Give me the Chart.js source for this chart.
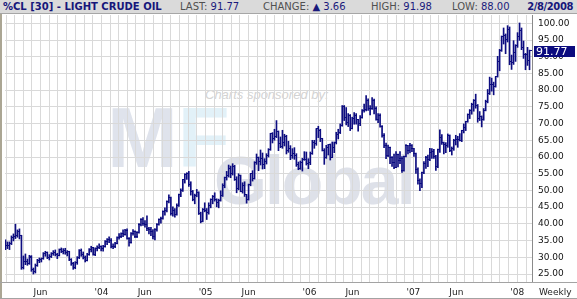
<!DOCTYPE html>
<html><head><meta charset="utf-8">
<script src="https://cdn.jsdelivr.net/npm/chart.js@4.4.1/dist/chart.umd.min.js"></script>
<style>
html,body{margin:0;padding:0;background:#fff;}
#wrap{position:relative;width:577px;height:299px;overflow:hidden;font-family:"DejaVu Sans",Verdana,sans-serif;}
#hdr{position:absolute;left:0;top:0;width:577px;height:13px;background:#dadada;border-bottom:1px solid #a6a6a6;z-index:3;}
.t{position:absolute;top:0;font-size:10px;line-height:13px;white-space:nowrap;}
.lab{color:#505050;}
.val{color:#1a1a7c;}
.wm{position:absolute;white-space:nowrap;font-family:"Liberation Sans",Arial,sans-serif;z-index:0;}
#chart{position:absolute;left:0;top:0;z-index:1;}
.ln{position:absolute;z-index:2;}
</style></head>
<body>
<div id="wrap">
  <div class="wm" style="left:205px;top:88px;font-size:13px;font-style:italic;color:#d3d3d3;line-height:13px;">Charts sponsored by:</div>
  <div class="wm" style="left:107px;top:95px;font-size:85px;font-weight:bold;line-height:85px;"><span style="color:#dfe3ec">M</span><span style="color:#e2f1f8">F</span></div>
  <div class="wm" style="left:214px;top:146px;font-size:68px;font-weight:bold;line-height:68px;letter-spacing:-2px;color:#dee1e9;">Global</div>
  <canvas id="chart" width="577" height="299"></canvas>
  <div id="hdr">
    <span class="t" style="left:3px;font-weight:bold;color:#16167a;">%CL [30] - LIGHT CRUDE OIL</span>
    <span class="t" style="left:180px;"><span class="lab">LAST:</span> <span class="val" id="hLast"></span></span>
    <span class="t" style="left:263px;"><span class="lab">CHANGE:</span> <span class="val">&#9650; <span id="hChg"></span></span></span>
    <span class="t" style="left:371px;"><span class="lab">HIGH:</span> <span class="val" id="hHigh"></span></span>
    <span class="t" style="left:452px;"><span class="lab">LOW:</span> <span class="val" id="hLow"></span></span>
    <span class="t" style="right:4px;font-weight:bold;color:#16167a;letter-spacing:-0.4px;">2/8/2008</span>
  </div>
  <div class="ln" style="left:0;top:14px;width:2px;height:285px;background:#aba694;"></div>
  <div class="ln" style="left:0;top:282px;width:577px;height:1px;background:#a3a3a3;"></div>
  <div class="ln" style="left:0;top:298px;width:577px;height:1px;background:#a3a3a3;"></div>
  <div class="t" style="left:539px;top:286px;font-size:9px;color:#222;z-index:2;">Weekly</div>
</div>
<script>
// ---- data (weekly bars, week ending Friday, starting 24 Jan 2003) ----
const firstWeekEnding = Date.UTC(2003, 0, 24);
const opens = [33.2,33.6,33.5,34.1,35.9,36.2,36.6,37.6,36.4,26.9,28.8,28.6,28.2,30.0,26.3,25.8,27.6,28.9,29.3,29.6,31.1,31.3,30.0,30.2,31.1,31.3,30.7,30.5,32.3,31.6,31.9,31.4,31.6,29.3,28.1,26.9,28.3,29.8,31.9,30.9,29.9,29.1,30.9,32.4,32.8,30.8,32.6,33.0,33.2,32.5,33.2,34.6,35.2,35.1,33.1,33.2,34.2,35.9,36.3,37.1,36.8,38.1,35.7,34.4,37.1,37.7,36.3,37.4,39.9,41.4,40.0,39.9,38.5,38.4,37.6,36.2,38.4,39.9,41.3,41.7,43.8,43.9,46.6,47.9,43.2,44.0,42.8,45.6,48.9,50.1,53.3,54.9,55.2,51.8,49.6,47.3,48.4,49.4,43.0,40.7,44.2,44.0,43.5,45.4,47.2,48.3,47.2,46.5,47.1,48.4,51.5,53.8,54.4,56.7,55.0,57.3,53.3,50.5,54.4,49.7,51.5,48.7,47.2,51.9,55.0,53.5,58.5,59.8,58.8,59.6,57.8,58.7,60.6,62.3,66.9,65.4,66.1,67.6,64.1,63.0,64.2,66.2,61.8,62.6,60.6,61.0,60.6,57.8,56.6,58.3,59.3,59.4,58.1,58.4,61.0,64.2,63.9,68.4,67.8,65.4,61.9,59.9,62.9,63.7,60.0,62.8,64.3,66.6,67.4,69.3,75.2,71.9,70.2,72.4,68.5,71.4,72.3,71.1,69.9,71.9,73.9,74.1,77.0,74.4,74.4,77.0,74.4,71.1,72.5,69.2,66.3,63.3,60.6,62.9,59.8,58.5,57.0,60.8,59.1,59.6,56.0,60.2,63.4,62.0,63.4,62.4,61.1,56.3,52.9,52.0,55.4,58.1,59.9,59.4,61.4,61.6,60.1,57.1,62.3,65.9,64.3,63.6,63.4,66.5,61.9,62.4,64.9,65.2,65.1,64.8,68.0,68.9,70.7,72.8,73.9,75.6,77.0,75.5,71.5,72.0,71.1,74.0,76.7,79.1,81.6,81.7,81.2,84.0,88.6,91.9,95.9,96.3,95.1,98.2,88.7,88.3,91.3,93.3,96.0,97.9,92.7,90.6,90.7,88.96];
const highs = [35.2,34.6,34.6,36.4,37.0,39.9,38.2,38.5,36.6,30.4,31.0,29.5,30.6,30.5,26.8,28.0,29.4,29.8,29.8,31.4,31.8,31.6,30.8,31.4,32.0,32.2,31.2,32.5,32.8,32.6,32.7,32.0,31.8,29.6,28.5,28.7,30.2,32.3,32.5,31.6,30.4,31.2,32.6,33.3,33.0,32.8,33.4,34.0,33.4,33.6,35.0,35.6,36.1,35.6,34.0,34.5,36.1,37.1,37.3,38.2,38.4,38.5,35.9,37.4,38.3,37.9,37.7,40.1,41.6,41.9,41.0,42.4,39.0,39.0,38.3,38.6,40.1,41.5,42.0,43.9,44.8,46.9,48.7,48.0,45.1,44.6,46.0,48.9,50.5,53.3,55.0,55.3,55.7,52.6,50.0,48.9,50.3,49.6,43.5,44.6,46.3,44.6,46.3,47.5,48.5,49.3,47.5,47.4,49.9,52.0,54.0,55.7,57.6,57.3,58.0,57.5,54.1,55.0,54.6,52.3,52.6,48.8,51.9,55.0,55.9,58.6,60.9,60.0,62.1,61.2,59.5,61.0,62.5,67.1,67.3,68.3,70.9,67.8,66.0,68.0,66.8,66.5,64.7,63.4,62.5,62.8,61.0,58.5,58.8,59.6,61.6,61.5,59.5,61.5,65.0,65.0,68.5,69.2,68.3,65.6,62.5,63.5,63.8,63.9,64.5,64.5,67.4,68.3,69.9,75.4,75.4,74.8,73.0,72.7,71.9,73.3,73.0,71.3,72.4,74.2,75.8,78.4,77.4,75.4,77.8,77.3,75.0,73.0,72.9,69.4,67.0,64.2,63.6,63.0,60.1,60.9,61.6,60.9,61.6,60.1,60.3,63.7,63.5,64.1,63.7,62.6,61.2,56.8,53.5,55.5,58.6,60.2,60.6,62.6,62.5,62.3,60.5,62.4,68.1,66.7,64.5,64.3,66.9,66.6,63.0,65.3,66.5,66.2,67.0,68.0,69.9,70.7,72.9,74.2,76.1,77.2,78.8,75.7,73.6,72.3,74.5,77.0,80.2,83.9,83.6,82.4,84.0,90.1,92.2,96.2,98.6,96.8,99.3,98.9,90.5,94.8,93.6,97.2,100.1,98.6,94.7,91.0,92.8,91.98];
const lows = [32.3,32.6,32.3,33.8,34.9,35.6,36.0,35.5,26.4,26.5,27.8,27.6,27.9,25.8,25.0,25.3,27.3,28.4,28.6,29.4,30.3,29.6,29.2,29.9,30.6,30.4,29.6,30.4,31.4,31.0,30.9,30.4,29.0,27.6,26.4,26.6,27.9,29.6,30.3,29.5,28.6,28.9,30.6,31.6,30.6,30.5,31.9,32.6,31.9,31.8,33.0,33.8,34.4,32.8,32.6,32.9,34.0,35.4,35.9,36.2,36.6,35.4,33.3,34.2,36.6,35.9,35.9,37.2,39.4,39.5,39.0,38.0,37.0,36.5,35.5,35.2,37.8,39.6,40.2,41.4,42.6,43.6,46.3,42.6,42.3,42.0,42.6,45.2,48.1,49.7,52.2,53.3,51.2,48.6,46.9,46.0,48.1,42.8,40.3,40.6,43.6,41.3,42.9,44.8,46.0,46.8,45.1,44.8,46.8,48.2,50.8,53.1,54.0,53.8,54.6,53.0,49.3,50.2,49.6,49.2,48.2,46.2,47.1,51.4,52.8,53.4,57.8,55.9,57.6,56.4,56.5,57.9,60.0,62.0,64.2,65.0,65.8,61.9,62.8,62.6,63.3,60.9,61.4,59.2,59.6,59.3,57.2,56.2,56.3,55.8,59.0,57.6,56.5,57.7,60.8,62.6,63.5,65.8,64.6,61.8,57.8,59.6,60.6,59.1,59.8,61.3,63.9,65.4,67.0,69.2,70.9,69.6,69.1,67.9,68.4,69.8,69.8,67.7,69.4,71.6,73.4,73.8,73.9,72.6,74.2,72.9,71.0,70.3,68.9,65.9,62.8,59.5,60.1,58.0,57.2,56.5,56.8,57.0,58.0,55.4,55.8,60.0,60.9,61.2,61.6,60.2,55.1,51.9,49.9,50.8,55.0,56.6,57.1,58.9,59.6,59.6,56.0,56.8,61.4,63.8,60.9,61.3,62.9,61.6,60.6,62.0,63.6,62.9,64.8,64.6,67.2,67.9,70.4,71.5,72.8,73.7,74.6,70.4,70.9,69.0,71.0,73.8,76.2,78.7,79.7,78.6,80.9,83.9,85.8,91.6,93.8,90.9,94.4,87.6,86.2,87.7,88.6,92.8,94.9,92.1,89.5,86.1,87.4,86.10];
const closes = [33.6,33.5,34.1,35.9,36.1,36.6,37.8,36.5,26.9,28.6,28.7,28.1,30.2,26.3,25.7,27.6,28.9,29.3,29.6,31.0,31.3,30.0,30.2,31.1,31.3,30.7,30.5,32.3,31.6,31.9,31.4,31.6,29.3,28.1,26.9,28.3,29.8,31.9,30.9,29.9,29.1,30.9,32.4,32.8,30.8,32.6,33.0,33.2,32.5,33.2,34.6,35.2,35.1,33.1,33.2,34.2,35.9,36.3,37.1,36.8,38.1,35.7,34.4,37.1,37.7,36.3,37.4,39.9,41.4,40.0,39.9,38.5,38.4,37.6,36.2,38.4,39.9,41.3,41.7,43.8,43.9,46.6,47.9,43.2,44.0,42.8,45.6,48.9,50.1,53.3,54.9,55.2,51.8,49.6,47.3,48.4,49.4,43.0,40.7,44.2,44.0,43.5,45.4,47.2,48.3,47.2,46.5,47.1,48.4,51.5,53.8,54.4,56.7,55.0,57.3,53.3,50.5,54.4,49.7,51.5,48.7,47.2,51.9,55.0,53.5,58.5,59.8,58.8,59.6,57.8,58.7,60.6,62.3,66.9,65.4,66.1,67.6,64.1,63.0,64.2,66.2,61.8,62.6,60.6,61.0,60.6,57.8,56.6,58.3,59.3,59.4,58.1,58.4,61.0,64.2,63.9,68.4,67.8,65.4,61.9,59.9,62.9,63.7,60.0,62.8,64.3,66.6,67.4,69.3,75.2,71.9,70.2,72.4,68.5,71.4,72.3,71.1,69.9,71.9,73.9,74.1,77.0,74.4,74.4,77.0,74.4,71.1,72.5,69.2,66.3,63.3,60.6,62.9,59.8,58.5,57.0,60.8,59.1,59.6,56.0,60.2,63.4,62.0,63.4,62.4,61.1,56.3,52.9,52.0,55.4,58.1,59.9,59.4,61.4,61.6,60.1,57.1,62.3,65.9,64.3,63.6,63.4,66.5,61.9,62.4,64.9,65.2,65.1,64.8,68.0,68.9,70.7,72.8,73.9,75.6,77.0,75.5,71.5,72.0,71.1,74.0,76.7,79.1,81.6,81.7,81.2,84.0,88.6,91.9,95.9,96.3,95.1,98.2,88.7,88.3,91.3,93.3,96.0,97.9,92.7,90.6,90.7,88.96,91.77];
const yTickValues = [25,30,35,40,45,50,55,60,65,70,75,80,85,90,95,100];
const monthLabels = {5: 'Jun'}; // January shows 'YY
const headerStats = {last: 91.77, change: 3.66, high: 91.98, low: 88.00};

// ---- header text ----
document.getElementById('hLast').textContent = headerStats.last.toFixed(2);
document.getElementById('hChg').textContent = headerStats.change.toFixed(2);
document.getElementById('hHigh').textContent = headerStats.high.toFixed(2);
document.getElementById('hLow').textContent = headerStats.low.toFixed(2);

const DAY = 864e5;
const weekEnding = closes.map((_, i) => firstWeekEnding + i * 7 * DAY);
const BAR_SHIFT = 5 * DAY;               // bar drawn a little after week end
// 2 px per week; plot area is 529 px wide
const X_MIN = firstWeekEnding + BAR_SHIFT - 1.75 * DAY;
const X_MAX = X_MIN + 1851.5 * DAY;

const monthTicks = [];
for (let y = 2003; y <= 2008; y++) for (let m = 0; m < 12; m++) {
  const t = Date.UTC(y, m, 1);
  if (t > X_MIN && t < X_MAX) monthTicks.push(t);
}

const BAR_COLOR = '#0d0d80';
function tickImg(side) {
  const c = document.createElement('canvas');
  c.width = 5; c.height = 1;
  const g = c.getContext('2d');
  g.fillStyle = BAR_COLOR;
  g.fillRect(side === 'open' ? 0 : 3, 0, 2, 1);
  return c;
}

const noSmooth = { id: 'noSmooth', beforeDatasetsDraw(chart) { chart.ctx.imageSmoothingEnabled = false; } };
const lastBox = {
  id: 'lastBox',
  afterDraw(chart) {
    const { ctx, scales: { y } } = chart;
    const v = closes[closes.length - 1];
    const py = Math.round(y.getPixelForValue(v));
    ctx.save();
    ctx.fillStyle = '#0b0b7e';
    ctx.fillRect(y.left + 2, py - 5, 41, 11);
    ctx.fillStyle = '#ffffff';
    ctx.font = '11px "DejaVu Sans"';
    ctx.textBaseline = 'middle';
    ctx.fillText(v.toFixed(2), y.left + 4, py + 1);
    ctx.restore();
  }
};

new Chart(document.getElementById('chart'), {
  type: 'bar',
  data: {
    datasets: [
      {
        type: 'bar',
        data: weekEnding.map((t, i) => ({ x: t + BAR_SHIFT, y: [lows[i], highs[i]] })),
        backgroundColor: BAR_COLOR,
        borderWidth: 0,
        barThickness: 1,
        grouped: false
      },
      {
        type: 'line', showLine: false,
        data: weekEnding.map((t, i) => ({ x: t + BAR_SHIFT, y: opens[i] })),
        pointStyle: tickImg('open'), pointRadius: 2
      },
      {
        type: 'line', showLine: false,
        data: weekEnding.map((t, i) => ({ x: t + BAR_SHIFT, y: closes[i] })),
        pointStyle: tickImg('close'), pointRadius: 2
      }
    ]
  },
  options: {
    responsive: false,
    devicePixelRatio: 1,
    animation: false,
    events: [],
    layout: { padding: { left: 3, top: 15, right: 0, bottom: 0 } },
    plugins: { legend: { display: false }, tooltip: { enabled: false } },
    scales: {
      x: {
        type: 'linear', min: X_MIN, max: X_MAX, offset: false,
        grid: { color: '#d9d9d9', lineWidth: 1, drawTicks: false, offset: false },
        border: { display: false },
        afterBuildTicks: s => { s.ticks = monthTicks.map(v => ({ value: v })); },
        afterFit: s => { s.height = 17; },
        ticks: {
          autoSkip: false, maxRotation: 0, padding: 5, color: '#222',
          font: { family: 'DejaVu Sans', size: 9 },
          callback: v => {
            const d = new Date(v), m = d.getUTCMonth();
            if (m === 0) return "'" + String(d.getUTCFullYear()).slice(2);
            return monthLabels[m] || '';
          }
        }
      },
      y: {
        type: 'linear', position: 'right', min: 22.61, max: 102.48,
        grid: { color: '#d9d9d9', lineWidth: 1, drawTicks: false },
        border: { display: true, color: '#8a8a8a', width: 1 },
        afterBuildTicks: s => { s.ticks = yTickValues.map(v => ({ value: v })); },
        afterFit: s => { s.width = 45; },
        ticks: {
          padding: 6, color: '#111',
          font: { family: 'DejaVu Sans', size: 9 },
          callback: v => Number(v).toFixed(2)
        }
      }
    }
  },
  plugins: [noSmooth, lastBox]
});
</script>
</body></html>
